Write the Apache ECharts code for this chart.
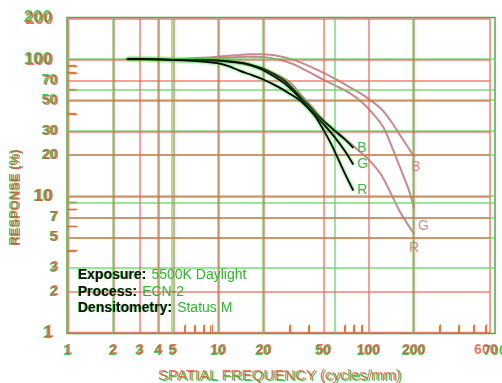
<!DOCTYPE html>
<html>
<head>
<meta charset="utf-8">
<script src="https://cdn.jsdelivr.net/npm/echarts@6/dist/echarts.min.js"></script>
<style>
html,body{margin:0;padding:0;background:#fff;}
#chart{width:502px;height:383px;}
</style>
</head>
<body>
<div id="chart"></div>
<script>
// ---- data ----
const xRedLabels = [1, 2, 3, 4, 5, 10, 20, 50, 100, 200, 600];
const xGreenLabels = [1, 2, 3, 4, 5, 10, 20, 50, 100, 200, 700];
const yLabels = [1, 2, 3, 5, 7, 10, 20, 30, 50, 70, 100, 200];
const yMajorLabels = [1, 10, 100, 200];
const xRedGridValues = [2, 3, 4, 5, 10, 20, 50, 100, 200];
const xGreenGridValues = [2, 4, 5, 10, 20, 60, 200];
const yRedGridValues = [2, 5, 7, 10, 20, 30, 50, 70, 100];
const yGreenGridValues = [3, 5, 7, 9, 10, 20, 30, 50, 60, 100];
const xMinorTicks = [6, 7, 8, 9, 30, 40, 70, 80, 90, 300, 400, 500, 600];
const yMinorTicks = [4, 6, 8, 9, 40, 60, 80, 90];

// film curves (black, end at 80 cycles/mm)
const blackB = [[2.5,100],[4,99],[6,98],[8,98],[10,97.5],[12,96],[15,93],[17.5,89],[20,85],[24,77],[28,69],[32,60],[36,52],[41,45],[46,39],[52,34.5],[60,30],[70,26],[80,22.5]];
const blackG = [[2.5,100],[4,99],[6,98],[8,98],[10,97],[12,95.5],[15,92.5],[17.5,88],[20,83],[24,74],[28,66],[32,58],[36,50.5],[41,43],[46,37.5],[52,32.5],[60,27],[70,21.5],[80,17]];
const blackR = [[2.5,100],[4,99],[6,97.5],[8,95.5],[10,93],[12,88],[14,82],[17,76],[20,71],[25,63],[30,56],[36,49],[44,39],[51,30],[57,24],[63,19],[70,14.8],[80,11]];
// pink curves (end at 200 cycles/mm)
const pinkB = [[2.5,100],[4,100.5],[6,102],[8,104],[10,106],[13,108.5],[16,110],[20,110],[25,107],[30,102],[35,96],[45,85],[58,74],[75,63],[97,53],[120,44],[139,36],[165,27],[200,19.5]];
const pinkG = [[2.5,100],[4,100],[6,101],[8,102.5],[10,104],[13,105],[16,105.5],[20,105],[25,101],[30,95],[35,88],[45,76],[58,66],[75,57],[88,50],[105,41],[125,32],[140,24],[154,18.5],[170,14],[185,11],[200,8.1]];
const pinkR = [[2.5,100],[4,100],[6,100],[8,99.5],[10,98.5],[13,95.5],[16,91.5],[20,86],[25,77],[30,68],[36,54],[42,45],[50,36],[62,29.5],[80,23],[100,18.5],[120,14.5],[140,10.5],[160,7.8],[180,6.3],[200,5.3]];
const curveNames = ['B', 'G', 'R'];

const infoKeys = ['Exposure:', 'Process:', 'Densitometry:'];
const infoValues = ['5500K Daylight', 'ECN-2', 'Status M'];
const xName = 'SPATIAL FREQUENCY (cycles/mm)';
const yName = 'RESPONSE (%)';

// ---- styling ----
const FONT = '"Liberation Sans", Arial, sans-serif';
const RED = 'rgba(236,95,85,0.78)';
const GREEN = 'rgba(95,215,95,0.85)';
const RED_TXT = 'rgba(222,78,58,0.78)';
const GREEN_TXT = '#4cc84c';
const TICK = 'rgba(215,110,50,0.9)';

function yFormatter(v) {
  const n = Math.round(v);
  return yMajorLabels.indexOf(n) >= 0 ? '{big|' + n + '}' : '{small|' + n + '}';
}
function yAxisCfg(gi, color, isRed) {
  return {
    type: 'log', logBase: 10, gridIndex: gi, min: 1, max: 200,
    axisLine: {show: false}, splitLine: {show: false},
    axisTick: {show: true, inside: true, length: 9, customValues: yMinorTicks,
               lineStyle: {color: TICK, width: 1.4}},
    axisLabel: {customValues: yLabels, margin: 10, formatter: yFormatter,
      rich: {
        big: {fontSize: 17, fontWeight: 'bold', color: color, fontFamily: FONT, padding: [0, 5, 0, 0]},
        small: {fontSize: 14, fontWeight: 'bold', color: color, fontFamily: FONT}
      }},
    name: yName, nameLocation: 'middle', nameGap: 46, nameMoveOverlap: false,
    nameTextStyle: {color: color, fontSize: 13, fontWeight: 'bold', fontFamily: FONT, padding: [0, 44, 0, 0]},
    z: isRed ? 4 : 3
  };
}
function xAxisCfg(gi, color, max, labels, isRed) {
  return {
    type: 'log', logBase: 10, gridIndex: gi, min: 1, max: max,
    axisLine: {show: false}, splitLine: {show: false},
    axisTick: {show: true, inside: true, length: 8, customValues: xMinorTicks,
               lineStyle: {color: TICK, width: 1.2}},
    axisLabel: {customValues: labels, margin: 11, color: color, fontSize: 14,
                fontWeight: 'bold', fontFamily: FONT, hideOverlap: false},
    name: xName, nameLocation: 'middle', nameGap: 36,
    nameTextStyle: {color: color, fontSize: 15, fontFamily: FONT},
    z: isRed ? 4 : 3
  };
}
function gridLines(color, xs, ys, xi, yi) {
  return {
    type: 'line', xAxisIndex: xi, yAxisIndex: yi, data: [], silent: true, z: 1,
    markLine: {
      silent: true, symbol: ['none', 'none'], label: {show: false},
      lineStyle: {color: color, width: 1.5, type: 'solid'},
      emphasis: {disabled: true},
      data: xs.map(v => ({xAxis: v})).concat(ys.map(v => ({yAxis: v})))
    }
  };
}
function curve(data, name, xi, yi, style, labelStyle) {
  return {
    type: 'line', name: name, xAxisIndex: xi, yAxisIndex: yi, data: data,
    smooth: 0.35, showSymbol: false, symbol: 'none', z: style.z,
    lineStyle: style.line,
    endLabel: Object.assign({show: true, formatter: name, fontSize: 14, fontFamily: FONT}, labelStyle)
  };
}

const blackStyle = {z: 5, line: {color: '#050505', width: 1.8, shadowColor: 'rgba(40,210,40,0.95)', shadowBlur: 3}};
const pinkStyle = {z: 4, line: {color: 'rgba(200,130,135,0.95)', width: 2}};
const blackLabel = {color: '#3cbc3c', distance: 4};

const chart = echarts.init(document.getElementById('chart'), null, {renderer: 'canvas'});
chart.setOption({
  animation: false,
  backgroundColor: '#ffffff',
  textStyle: {fontFamily: FONT},
  title: {
    left: 78, top: 267, padding: 0,
    text: infoKeys.map((k, i) => '{k|' + k + '} {v|' + infoValues[i] + '}').join('\n'),
    textStyle: {
      fontWeight: 'normal', lineHeight: 16.5,
      rich: {
        k: {fontSize: 14, fontWeight: 'bold', color: '#101010', lineHeight: 16.5, fontFamily: FONT,
            textShadowColor: 'rgba(60,200,60,0.8)', textShadowOffsetX: -1, textShadowBlur: 1},
        v: {fontSize: 14, fontWeight: 'normal', color: '#2db52d', lineHeight: 16.5, fontFamily: FONT}
      }
    }
  },
  grid: [
    {left: 68.5, right: 12, top: 19, bottom: 50.5, show: true, borderColor: RED, borderWidth: 1.5, z: 2,
     outerBoundsMode: 'none', containLabel: false},
    {left: 67, right: 7, top: 17.5, bottom: 49.5, show: true, borderColor: 'rgba(40,170,40,0.9)', borderWidth: 1.5, z: 1,
     outerBoundsMode: 'none', containLabel: false}
  ],
  xAxis: [
    xAxisCfg(0, RED_TXT, 640, xRedLabels, true),
    xAxisCfg(1, GREEN_TXT, 700, xGreenLabels, false)
  ],
  yAxis: [
    yAxisCfg(0, RED_TXT, true),
    yAxisCfg(1, GREEN_TXT, false)
  ],
  series: [
    gridLines(GREEN, xGreenGridValues, yGreenGridValues, 1, 1),
    gridLines(RED, xRedGridValues, yRedGridValues, 0, 0),
    curve(pinkB, curveNames[0], 0, 0, pinkStyle, {color: '#d98a8a', offset: [-8, 10], distance: 5}),
    curve(pinkG, curveNames[1], 0, 0, pinkStyle, {color: '#d98a8a', offset: [-1, 17], distance: 5}),
    curve(pinkR, curveNames[2], 0, 0, pinkStyle, {color: '#d98a8a', offset: [-10, 14], distance: 5}),
    curve(blackB, curveNames[0], 1, 1, blackStyle, blackLabel),
    curve(blackG, curveNames[1], 1, 1, blackStyle, blackLabel),
    curve(blackR, curveNames[2], 1, 1, blackStyle, blackLabel)
  ]
});
</script>
</body>
</html>
